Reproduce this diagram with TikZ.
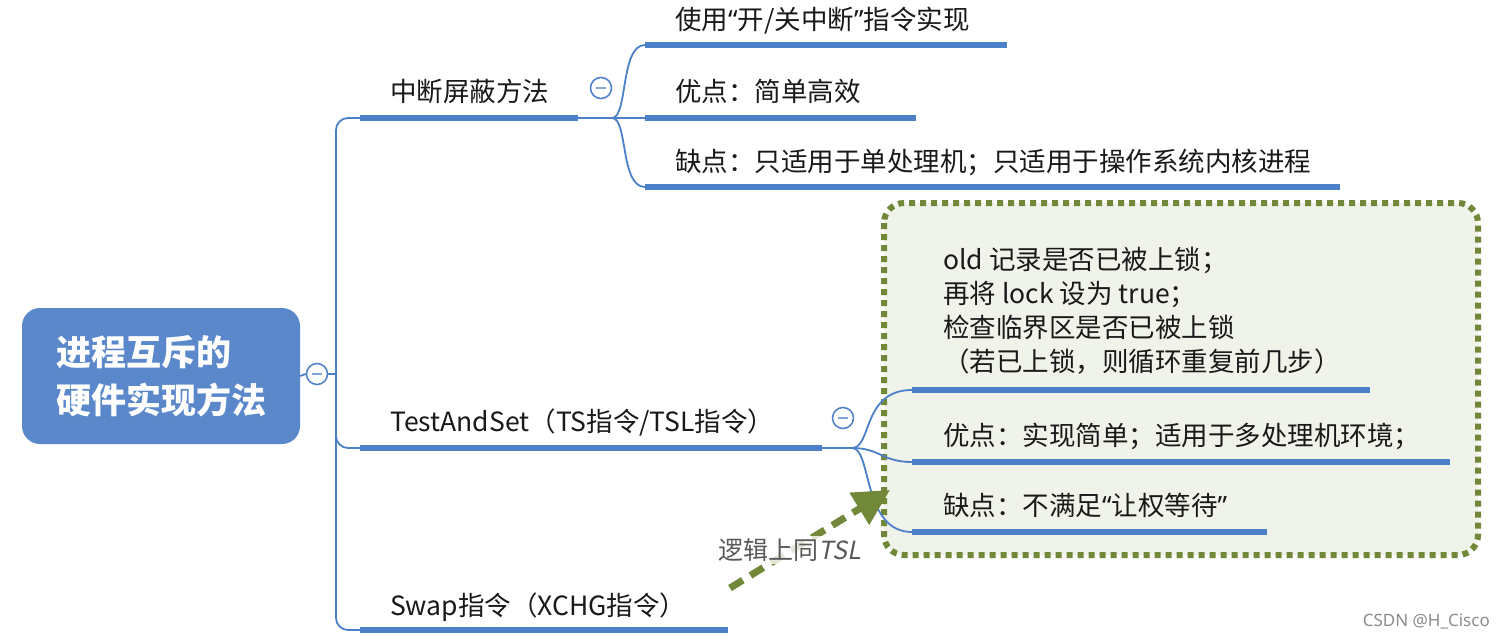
\documentclass[tikz,border=0pt]{standalone}
\usepackage{fontspec}
\setmainfont{Noto Sans CJK SC}
\newfontfamily\slfont{Noto Sans CJK SC}[FakeSlant=0.2]
\newfontfamily\wmfont{Noto Sans}
\newcommand{\myoq}{{\wmfont “}}
\newcommand{\mycq}{{\wmfont ”}}
\usetikzlibrary{arrows.meta,calc}
\definecolor{mmblue}{RGB}{76,128,200}
\definecolor{rootblue}{RGB}{90,136,203}
\definecolor{olivegreen}{RGB}{112,136,56}
\definecolor{boxfill}{RGB}{240,243,233}
\definecolor{txt}{RGB}{25,25,25}
\tikzset{
  topic/.style={anchor=base west, inner sep=0pt, font=\fontsize{26.5}{34}\selectfont, text=txt},
  ul/.style={draw=mmblue, line width=6pt},
  conn/.style={draw=mmblue, line width=1.8pt},
  fold/.style={circle, draw=mmblue, fill=white, line width=1.5pt, minimum size=21pt, inner sep=0pt,
    path picture={\draw[mmblue!70, line width=1.5pt] ([xshift=-5pt]path picture bounding box.center) -- ([xshift=5pt]path picture bounding box.center);}},
  root/.style={rounded corners=18pt, fill=rootblue, text=white, minimum width=278pt, minimum height=136pt,
    align=left, inner sep=0pt, font=\fontsize{35}{48}\selectfont\bfseries},
  greenbox/.style={draw=olivegreen, fill=boxfill, line width=6pt, dash pattern=on 6pt off 5pt, rounded corners=20pt},
}
\begin{document}
\begin{tikzpicture}[x=1pt,y=-1pt]
\useasboundingbox (0,0) rectangle (1506,642);
\fill[white] (0,0) rectangle (1506,642);

% green dotted group box
\draw[greenbox] (884,203) rectangle (1478,555);

% root
\node[root] (root) at (161,376) {进程互斥的\\硬件实现方法};
\node[fold] (f0) at (317,374) {};
\coordinate (trk) at (336,374);
\draw[conn] (root.east) -- (f0.west);
\draw[conn] (f0.east) -- (trk);

% branch 1
\node[topic] (b1) at (390,101) {中断屏蔽方法};
\coordinate (b1l) at (360,118); \coordinate (b1r) at (578,118);
\coordinate (j1) at (612,118);
\node[fold] (f1) at (601,88) {};

% children of branch 1
\node[topic] (c11) at (675,30) {使用\myoq 开/关中断\mycq 指令实现};
\coordinate (c11l) at (645,45); \coordinate (c11r) at (1007,45);
\node[topic] (c12) at (675,101) {优点：简单高效};
\coordinate (c12l) at (645,118); \coordinate (c12r) at (916,118);
\node[topic] (c13) at (675,171) {缺点：只适用于单处理机；只适用于操作系统内核进程};
\coordinate (c13l) at (645,187); \coordinate (c13r) at (1340,187);

% branch 2
\node[topic] (b2) at (390,431) {TestAndSet（TS指令/TSL指令）};
\coordinate (b2l) at (360,448); \coordinate (b2r) at (822,448);
\coordinate (j2) at (852,448);
\node[fold] (f2) at (843,418) {};

% children of branch 2
\node[topic, anchor=north west, align=left] (c21) at (943,247) {old 记录是否已被上锁；\\再将 lock 设为 true；\\检查临界区是否已被上锁\\（若已上锁，则循环重复前几步）};
\coordinate (c21l) at (912,390); \coordinate (c21r) at (1370,390);
\node[topic] (c22) at (943,445) {优点：实现简单；适用于多处理机环境；};
\coordinate (c22l) at (912,462); \coordinate (c22r) at (1450,462);
\node[topic] (c23) at (943,515) {缺点：不满足\myoq 让权等待\mycq};
\coordinate (c23l) at (912,532); \coordinate (c23r) at (1267,532);

% branch 3
\node[topic] (b3) at (390,615) {Swap指令（XCHG指令）};
\coordinate (b3l) at (360,630); \coordinate (b3r) at (728,630);

% trunk
\draw[conn, rounded corners=12pt] (b1l) -| (trk) |- (b3l);
\draw[conn, rounded corners=12pt] (trk) |- (b2l);

% underlines
\foreach \n in {b1,b2,b3,c11,c12,c13,c21,c22,c23}
  \draw[ul] (\n l) -- (\n r);

% branch 1 connectors
\draw[conn] (b1r) -- (c12l);
\draw[conn] (j1) .. controls (628,118) and (620,45) .. (c11l);
\draw[conn] (j1) .. controls (628,118) and (620,187) .. (c13l);

% branch 2 connectors
\draw[conn] (b2r) -- (j2);
\draw[conn] (j2) .. controls (872,448) and (862,390) .. (c21l);
\draw[conn] (j2) .. controls (880,448) and (882,462) .. (c22l);
\draw[conn] (j2) .. controls (872,448) and (862,532) .. (c23l);

% dashed green arrow
\coordinate (as) at (730,588); \coordinate (ae) at (890,490);
\draw[olivegreen, line width=7pt, dash pattern=on 15pt off 9pt, -{Triangle[length=36pt,width=36pt]}] (as) -- (ae);
\node[fill=white, fill opacity=0.8, text opacity=1, text=black!65, inner sep=2pt, font=\fontsize{25}{28}\selectfont] (lbl) at (790,550) {逻辑上同{\slfont TSL}};

% watermark
\node[anchor=east, inner sep=0pt, text=black!45, font=\wmfont\fontsize{17}{20}\selectfont] (wm) at (1490,622) {CSDN @H\_Cisco};
\end{tikzpicture}
\end{document}
